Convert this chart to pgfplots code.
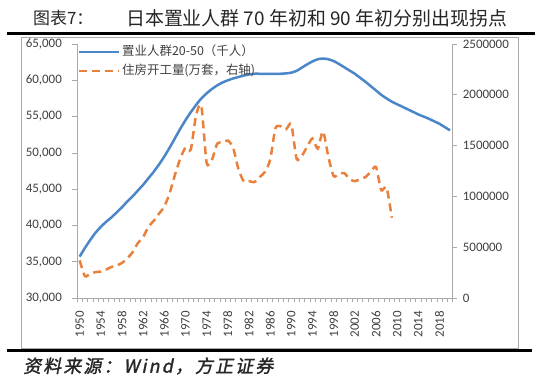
\documentclass[border=0pt]{standalone}
\usepackage{fontspec}
\usepackage{pgfplots}
\pgfplotsset{compat=1.18}
\setmainfont{Carlito}
\newfontfamily\cjk{Noto Sans CJK SC}
\newfontfamily\cjksl[FakeSlant=0.2,FakeBold=1.5,LetterSpace=12]{Noto Sans CJK SC}
\definecolor{blueline}{RGB}{74,134,200}
\definecolor{orangeline}{RGB}{233,128,60}
\definecolor{axgray}{RGB}{170,170,170}
\definecolor{txt}{RGB}{64,64,64}

\pgfplotstableread{
year pop
1950 35700
1951 36900
1952 38000
1953 39000
1954 39800
1955 40500
1956 41100
1957 41800
1958 42500
1959 43300
1960 44000
1961 44800
1962 45600
1963 46500
1964 47400
1965 48400
1966 49500
1967 50700
1968 52000
1969 53300
1970 54500
1971 55600
1972 56600
1973 57500
1974 58200
1975 58800
1976 59300
1977 59700
1978 60000
1979 60250
1980 60450
1981 60650
1982 60800
1983 60900
1984 60900
1985 60900
1986 60900
1987 60900
1988 60900
1989 60950
1990 61050
1991 61300
1992 61750
1993 62200
1994 62600
1995 62900
1996 63000
1997 62900
1998 62650
1999 62250
2000 61800
2001 61350
2002 60900
2003 60350
2004 59800
2005 59200
2006 58600
2007 58000
2008 57500
2009 57050
2010 56700
2011 56350
2012 56000
2013 55650
2014 55300
2015 55000
2016 54700
2017 54350
2018 54000
2019 53550
2020 53100
}\poptable

\pgfplotstableread{
year starts
1950 370000
1951 215000
1952 240000
1953 255000
1954 260000
1955 280000
1956 305000
1957 320000
1958 345000
1959 390000
1960 450000
1961 540000
1962 600000
1963 700000
1964 760000
1965 830000
1966 900000
1967 1030000
1968 1210000
1969 1370000
1970 1480000
1971 1460000
1972 1800000
1973 1890000
1974 1330000
1975 1360000
1976 1520000
1977 1530000
1978 1550000
1979 1480000
1980 1270000
1981 1150000
1982 1150000
1983 1140000
1984 1190000
1985 1240000
1986 1360000
1987 1670000
1988 1690000
1989 1660000
1990 1710000
1991 1370000
1992 1400000
1993 1490000
1994 1570000
1995 1470000
1996 1640000
1997 1390000
1998 1200000
1999 1220000
2000 1230000
2001 1170000
2002 1150000
2003 1170000
2004 1190000
2005 1240000
2006 1290000
2007 1060000
2008 1090000
2009 790000
}\startstable

\begin{document}
\begin{tikzpicture}
\path[use as bounding box] (0,0) rectangle (550bp,383bp);
% frame and rules
\draw[axgray, line width=0.8bp] (21bp,35bp) rectangle (518bp,346bp);
\draw[black, line width=3bp] (7bp,349bp) -- (535bp,349bp);
\draw[black, line width=3bp] (7bp,32bp) -- (532bp,32bp);
% title
\node[anchor=west, inner sep=0pt, text=black!85] at (33bp,365bp) {\cjk\fontsize{17}{20}\selectfont 图表7：};
\node[anchor=west, inner sep=0pt, text=black!85] at (126bp,365bp) {\cjk\fontsize{19}{22}\selectfont 日本置业人群 70 年初和 90 年初分别出现拐点};
% source
\node[anchor=west, inner sep=0pt, text=black!85] at (23bp,17bp) {\cjksl\fontsize{18}{21}\selectfont 资料来源：Wind，方正证券};

\begin{axis}[
  at={(77bp,85bp)}, anchor=south west,
  scale only axis, width=375.7bp, height=254bp,
  xmin=1949.5, xmax=2020.5,
  ymin=30000, ymax=65000,
  axis x line*=bottom, axis y line*=left,
  axis line style={axgray, line width=0.8bp},
  xtick={1950,1954,...,2018},
  minor xtick={1949.5,1950.5,...,2020.5},
  major x tick style={draw=none},
  minor x tick style={axgray, line width=0.6bp},
  minor tick length=4bp,
  ytick={30000,35000,...,65000},
  y tick style={axgray, line width=0.6bp},
  major tick length=5bp,
  tick align=outside,
  /pgf/number format/assume math mode=true,
  xticklabel style={rotate=90, anchor=east, inner sep=0pt, font=\fontsize{13}{15}\selectfont, text=txt, xshift=-8bp},
  xticklabel={\pgfmathprintnumber[1000 sep={},fixed,precision=0]{\tick}},
  yticklabel style={/pgf/number format/1000 sep={,}, /pgf/number format/fixed, inner sep=0pt, font=\fontsize{13}{15}\selectfont, text=txt, xshift=-10bp},
  scaled y ticks=false,
  clip=false,
  legend cell align=left,
  legend style={at={(rel axis cs:0,1)}, anchor=north west, xshift=1bp, yshift=0bp,
    draw=none, fill=none, inner xsep=0pt, inner ysep=0pt, row sep=3bp,
    nodes={inner sep=1.5bp, text height=10bp, text depth=3bp, text=txt, font=\cjk\fontsize{12.5}{15}\selectfont}},
  legend image code/.code={\draw[#1] (0bp,0bp) -- (40bp,0bp);},
]
\addplot[blueline, line width=2.5bp, smooth, tension=0.3] table[x=year, y=pop] {\poptable};
\addlegendentry{置业人群20-50（千人）}
\addlegendimage{orangeline, line width=2.5bp, dash pattern=on 8bp off 5bp}
\addlegendentry{住房开工量(万套，右轴)}
\end{axis}

\begin{axis}[
  at={(77bp,85bp)}, anchor=south west,
  scale only axis, width=375.7bp, height=254bp,
  xmin=1949.5, xmax=2020.5,
  ymin=0, ymax=2500000,
  axis x line=none, axis y line*=right,
  axis line style={axgray, line width=0.8bp},
  ytick={0,500000,...,2500000},
  y tick style={axgray, line width=0.6bp},
  major tick length=4bp,
  tick align=outside,
  /pgf/number format/assume math mode=true,
  scaled y ticks=false,
  yticklabel style={/pgf/number format/1000 sep={}, /pgf/number format/fixed, inner sep=0pt, font=\fontsize{13}{15}\selectfont, text=txt, xshift=6bp},
]
\addplot[orangeline, line width=2.5bp, dash pattern=on 8bp off 5bp, smooth, tension=0.4] table[x=year, y=starts] {\startstable};
\end{axis}
\end{tikzpicture}
\end{document}
